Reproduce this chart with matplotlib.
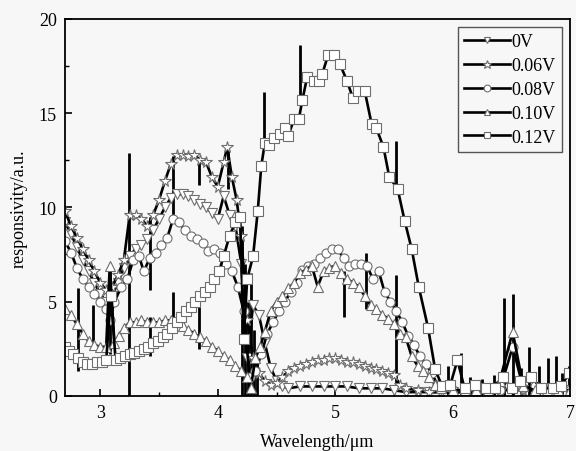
"""Responsivity spectra under different bias voltages."""
import matplotlib
matplotlib.use("Agg")
import matplotlib.pyplot as plt
from matplotlib.ticker import MultipleLocator

plt.rcParams["font.family"] = ["Liberation Serif", "DejaVu Serif"]

BG = "#f7f7f7"
EDGE = "#6e6e6e"

labels = ["0V", "0.06V", "0.08V", "0.10V", "0.12V"]
markers = ["v", "*", "o", "^", "s"]

# 0V
wl_0 = [2.70, 2.75, 2.80, 2.85, 2.90, 2.95, 3.00, 3.05, 3.10, 3.15, 3.20, 3.25,
        3.30, 3.35, 3.40, 3.45, 3.50, 3.55, 3.60, 3.65, 3.70, 3.75, 3.80, 3.85,
        3.90, 3.95, 4.00, 4.05, 4.10, 4.15, 4.20, 4.25, 4.30, 4.35, 4.40, 4.45,
        4.50, 4.55, 4.60, 4.70, 4.80, 4.90, 5.00, 5.10, 5.20, 5.30, 5.40, 5.50,
        5.60, 5.70, 5.80, 5.90, 6.00, 6.20, 6.40, 6.50, 6.60, 6.80, 7.00]
r_0 = [9.2, 8.6, 7.9, 7.2, 6.6, 6.0, 5.4, 5.0, 5.3, 6.0, 6.8, 7.4,
       7.8, 8.0, 8.3, 8.8, 9.4, 10.0, 10.5, 10.7, 10.7, 10.6, 10.4, 10.2,
       10.0, 9.7, 9.4, 10.6, 9.6, 9.0, 7.0, 2.0, 4.8, 4.3, 2.8, 1.5,
       0.8, 0.5, 0.4, 0.5, 0.5, 0.5, 0.5, 0.5, 0.4, 0.4, 0.4, 0.3,
       0.2, 0.2, 0.2, 0.2, 0.2, 0.2, 0.3, 0.4, 0.3, 0.3, 0.3]

# 0.06V
wl_1 = [2.70, 2.75, 2.80, 2.85, 2.90, 2.95, 3.00, 3.05, 3.10, 3.15, 3.20, 3.25,
        3.30, 3.35, 3.40, 3.45, 3.50, 3.55, 3.60, 3.65, 3.70, 3.75, 3.80, 3.85,
        3.90, 3.95, 4.00, 4.05, 4.08, 4.12, 4.16, 4.20, 4.25, 4.30, 4.35, 4.40,
        4.45, 4.50, 4.55, 4.60, 4.65, 4.70, 4.75, 4.80, 4.85, 4.90, 4.95, 5.00,
        5.05, 5.10, 5.15, 5.20, 5.25, 5.30, 5.35, 5.40, 5.45, 5.50, 5.55, 5.60,
        5.70, 5.80, 5.90, 6.00, 6.20, 6.40, 6.60, 6.80, 7.00]
r_1 = [9.8, 9.0, 8.4, 7.8, 7.2, 6.6, 6.0, 5.6, 5.8, 6.4, 7.2, 9.6,
       9.6, 9.4, 9.0, 9.6, 10.4, 11.4, 12.3, 12.8, 12.8, 12.7, 12.8, 12.5,
       12.4, 11.6, 11.1, 12.4, 13.2, 11.6, 10.4, 8.5, 4.0, 2.0, 1.2, 0.8,
       0.6, 0.7, 1.0, 1.3, 1.5, 1.6, 1.7, 1.8, 1.9, 1.9, 2.0, 2.0,
       1.9, 1.8, 1.8, 1.7, 1.6, 1.5, 1.4, 1.3, 1.2, 1.1, 0.6, 0.4,
       0.3, 0.2, 0.2, 0.2, 0.2, 0.3, 0.3, 0.3, 0.3]

# 0.08V
wl_2 = [2.70, 2.75, 2.80, 2.85, 2.90, 2.95, 3.00, 3.05, 3.08, 3.12, 3.18, 3.23,
        3.28, 3.33, 3.37, 3.42, 3.47, 3.52, 3.57, 3.62, 3.67, 3.72, 3.77, 3.82,
        3.87, 3.92, 3.97, 4.02, 4.07, 4.12, 4.17, 4.22, 4.27, 4.32, 4.37, 4.42,
        4.47, 4.52, 4.57, 4.62, 4.67, 4.72, 4.77, 4.82, 4.87, 4.92, 4.97, 5.02,
        5.07, 5.12, 5.17, 5.22, 5.27, 5.32, 5.37, 5.42, 5.47, 5.52, 5.57, 5.62,
        5.67, 5.72, 5.77, 5.82, 5.87, 5.92, 6.00, 6.10, 6.20, 6.30, 6.40, 6.51,
        6.60, 6.70, 6.80, 6.90, 7.00]
r_2 = [8.2, 7.6, 6.8, 6.2, 5.8, 5.4, 5.0, 4.6, 4.0, 5.0, 5.8, 6.2,
       7.2, 7.4, 6.6, 7.3, 7.6, 8.0, 8.4, 9.4, 9.2, 8.8, 8.5, 8.3,
       8.1, 7.7, 7.8, 7.6, 7.0, 6.6, 5.8, 4.5, 1.0, 1.3, 2.2, 3.3,
       3.9, 4.5, 5.0, 5.5, 6.0, 6.7, 6.9, 7.0, 7.3, 7.6, 7.8, 7.8,
       7.3, 6.9, 7.0, 7.0, 6.9, 6.2, 6.6, 5.5, 5.0, 4.5, 3.9, 3.2,
       2.7, 2.1, 1.7, 1.2, 0.6, 0.4, 0.3, 0.3, 0.4, 0.3, 0.3, 2.6,
       0.4, 0.5, 0.4, 0.3, 0.3]

# 0.10V
wl_3 = [2.70, 2.75, 2.80, 2.85, 2.90, 2.95, 3.00, 3.05, 3.08, 3.12, 3.16, 3.20,
        3.25, 3.30, 3.35, 3.40, 3.45, 3.50, 3.55, 3.60, 3.65, 3.70, 3.75, 3.80,
        3.85, 3.90, 3.95, 4.00, 4.05, 4.10, 4.15, 4.20, 4.25, 4.28, 4.32, 4.36,
        4.40, 4.45, 4.50, 4.55, 4.60, 4.65, 4.70, 4.75, 4.80, 4.85, 4.90, 4.95,
        5.00, 5.05, 5.10, 5.15, 5.20, 5.25, 5.30, 5.35, 5.40, 5.45, 5.50, 5.55,
        5.60, 5.65, 5.70, 5.75, 5.80, 5.85, 5.90, 6.00, 6.10, 6.20, 6.30, 6.40,
        6.51, 6.60, 6.70, 6.80, 6.90, 7.00]
r_3 = [4.6, 4.3, 3.8, 3.3, 2.9, 2.7, 2.6, 2.6, 6.9, 2.8, 3.2, 3.6,
       3.9, 3.9, 4.0, 3.9, 3.9, 3.9, 4.0, 4.0, 3.9, 3.7, 3.5, 3.3,
       3.1, 2.9, 2.6, 2.4, 2.1, 1.9, 1.6, 1.3, 1.0, 0.4, 2.0, 2.6,
       3.4, 4.5, 5.0, 5.3, 5.7, 6.0, 6.5, 6.7, 6.9, 5.8, 6.6, 6.8,
       6.9, 6.5, 6.2, 6.0, 5.8, 5.3, 4.8, 4.6, 4.3, 4.1, 3.8, 3.3,
       3.1, 2.1, 1.6, 1.3, 1.0, 0.6, 0.4, 0.3, 0.3, 0.3, 0.3, 0.8,
       3.4, 0.5, 0.3, 0.3, 0.3, 0.3]

# 0.12V
wl_4 = [2.70, 2.73, 2.77, 2.81, 2.85, 2.89, 2.93, 2.97, 3.01, 3.05, 3.09, 3.13,
        3.17, 3.21, 3.25, 3.29, 3.33, 3.37, 3.41, 3.45, 3.49, 3.53, 3.57, 3.61,
        3.65, 3.69, 3.73, 3.77, 3.81, 3.85, 3.89, 3.93, 3.97, 4.01, 4.05, 4.10,
        4.15, 4.19, 4.22, 4.25, 4.30, 4.34, 4.37, 4.40, 4.44, 4.48, 4.53, 4.57,
        4.60, 4.65, 4.69, 4.72, 4.76, 4.82, 4.86, 4.89, 4.94, 4.99, 5.04, 5.10,
        5.15, 5.19, 5.25, 5.31, 5.35, 5.41, 5.46, 5.53, 5.59, 5.65, 5.71, 5.79,
        5.85, 5.91, 5.98, 6.04, 6.10, 6.19, 6.28, 6.36, 6.43, 6.50, 6.57, 6.67,
        6.75, 6.85, 6.92, 6.99]
r_4 = [2.6, 2.4, 2.2, 2.0, 1.8, 1.7, 1.7, 1.8, 1.8, 1.9, 5.3, 1.9,
       2.0, 2.1, 2.2, 2.3, 2.4, 2.5, 2.6, 2.8, 2.9, 3.1, 3.3, 3.6,
       3.9, 4.2, 4.5, 4.7, 5.0, 5.3, 5.5, 5.8, 6.2, 6.6, 7.4, 8.5,
       9.2, 9.5, 3.0, 6.2, 7.4, 9.8, 12.2, 13.4, 13.3, 13.7, 13.9, 14.2,
       13.8, 14.7, 14.7, 15.7, 16.9, 16.7, 16.7, 17.1, 18.1, 18.1, 17.6, 16.7,
       15.8, 16.2, 16.2, 14.4, 14.2, 13.2, 11.6, 11.0, 9.3, 7.8, 5.8, 3.6,
       1.4, 0.5, 0.6, 1.9, 0.4, 0.6, 0.4, 0.4, 1.0, 0.4, 0.8, 1.0,
       0.4, 0.4, 0.5, 1.2]

# sharp noise spikes in the raw traces: wavelength, low, high
spike_wl = [2.81, 2.94, 3.08, 3.24, 3.42, 3.42, 3.62, 3.62, 3.84, 3.84, 4.09,
            4.21, 4.23, 4.26, 4.28, 4.31, 4.33, 4.39, 4.70, 5.07, 5.26, 5.52,
            5.52, 5.96, 6.07, 6.15, 6.25, 6.35, 6.44, 6.51, 6.58, 6.65, 6.73,
            6.81, 6.88, 6.93, 6.99]
spike_lo = [1.3, 2.5, 2.2, 0.0, 5.6, 2.1, 9.5, 4.1, 11.2, 2.5, 11.0,
            0.0, 0.0, 0.0, 0.0, 0.0, 0.0, 13.3, 15.8, 4.2, 4.6, 11.1,
            0.7, 0.0, 0.0, 0.0, 0.0, 0.0, 0.0, 0.0, 0.0, 0.0, 0.0,
            0.0, 0.0, 0.0, 0.0]
spike_hi = [5.7, 4.8, 6.6, 12.9, 9.5, 4.2, 12.7, 5.5, 12.5, 5.0, 13.2,
            9.0, 7.0, 5.0, 6.5, 3.5, 2.0, 16.1, 18.6, 6.6, 7.6, 13.5,
            6.4, 1.6, 2.3, 1.0, 0.9, 1.1, 5.2, 5.4, 1.5, 2.6, 1.6,
            2.0, 2.1, 1.2, 1.6]

series = [(wl_0, r_0), (wl_1, r_1), (wl_2, r_2), (wl_3, r_3), (wl_4, r_4)]

fig = plt.figure(figsize=(5.76, 4.52), dpi=100, facecolor=BG)
ax = fig.add_axes([0.113, 0.122, 0.877, 0.834], facecolor=BG)

ax.vlines(spike_wl, spike_lo, spike_hi, color="black", linewidth=2.0, zorder=1)

for (wl, r), lab, m in zip(series, labels, markers):
    size = 8.5 if m == "*" else 6.5
    ax.plot(wl, r, color="black", linewidth=1.9, marker=m, markersize=size,
            markerfacecolor="white", markeredgecolor=EDGE, markeredgewidth=0.8,
            label=lab, zorder=2)

ax.set_xlim(2.7, 7.0)
ax.set_ylim(0, 20)
ax.xaxis.set_major_locator(MultipleLocator(1))
ax.xaxis.set_minor_locator(MultipleLocator(0.5))
ax.yaxis.set_major_locator(MultipleLocator(5))
ax.yaxis.set_minor_locator(MultipleLocator(2.5))
ax.tick_params(which="both", direction="in", labelsize=13, top=False, right=False)
ax.tick_params(which="major", length=5, width=1.2, pad=6)
ax.tick_params(which="minor", length=3, width=1.0)
for s in ax.spines.values():
    s.set_linewidth(1.3)

ax.set_xlabel("Wavelength/μm", fontsize=13)
ax.set_ylabel("responsivity/a.u.", fontsize=13)
ax.xaxis.set_label_coords(0.5, -0.098)
ax.yaxis.set_label_coords(-0.075, 0.5)

leg = ax.legend(loc="upper right", fontsize=13, handlelength=2.5,
                handletextpad=0.1, borderpad=0.35, labelspacing=0.38,
                fancybox=False, framealpha=1, edgecolor="#555555",
                borderaxespad=0.45, markerscale=0.75)
leg.get_frame().set_facecolor(BG)

fig.savefig("out.png", dpi=100, facecolor=BG)
